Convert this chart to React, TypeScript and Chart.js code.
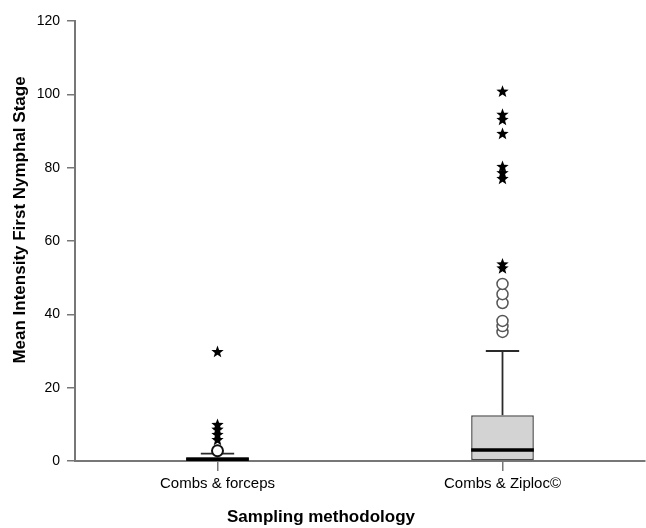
import React, { useEffect, useRef } from "react";
import { Chart, registerables } from "chart.js";

Chart.register(...registerables);

const categories = ["Combs & forceps", "Combs & Ziploc©"];
const q1 = [0, 0];
const q3 = [1, 12.5];
const medians = [0.5, 3];
const whiskerLow = [0, 0];
const whiskerHigh = [2, 30];
const circleOutliers = [[2.8], [35.2, 36.8, 38.2, 43.1, 45.5, 48.3]];
const starOutliers = [
  [5.7, 7.1, 8.5, 9.8, 29.7],
  [52.5, 53.6, 76.9, 78.5, 80.2, 89.2, 93.0, 94.4, 100.7],
];
const yTicks = [0, 20, 40, 60, 80, 100, 120];

const FONT = "'Liberation Sans', Arial, Helvetica, sans-serif";

function drawStar(ctx: CanvasRenderingContext2D, x: number, y: number, r: number) {
  const inner = r * 0.42;
  ctx.beginPath();
  for (let k = 0; k < 10; k++) {
    const rad = k % 2 === 0 ? r : inner;
    const a = -Math.PI / 2 + (k * Math.PI) / 5;
    const px = x + rad * Math.cos(a);
    const py = y + rad * Math.sin(a);
    if (k === 0) ctx.moveTo(px, py);
    else ctx.lineTo(px, py);
  }
  ctx.closePath();
  ctx.fill();
}

const boxPlugin = {
  id: "boxExtras",
  afterDatasetsDraw(chart: any) {
    const ctx = chart.ctx as CanvasRenderingContext2D;
    const xs = chart.scales.x;
    const ys = chart.scales.y;
    const meta = chart.getDatasetMeta(0);
    ctx.save();
    categories.forEach((_, i) => {
      const cx = xs.getPixelForValue(i);
      const bar = meta.data[i];
      const bw = bar ? bar.width : 60;
      const capHalf = bw / 4 + 1;
      ctx.strokeStyle = "#2a2a2a";
      ctx.lineWidth = 1.8;
      ctx.beginPath();
      ctx.moveTo(cx, ys.getPixelForValue(q3[i]));
      ctx.lineTo(cx, ys.getPixelForValue(whiskerHigh[i]));
      ctx.stroke();
      ctx.beginPath();
      ctx.moveTo(cx - capHalf, ys.getPixelForValue(whiskerHigh[i]));
      ctx.lineTo(cx + capHalf, ys.getPixelForValue(whiskerHigh[i]));
      ctx.stroke();
      if (whiskerLow[i] < q1[i]) {
        ctx.beginPath();
        ctx.moveTo(cx, ys.getPixelForValue(q1[i]));
        ctx.lineTo(cx, ys.getPixelForValue(whiskerLow[i]));
        ctx.stroke();
      }
      ctx.strokeStyle = "#000";
      ctx.lineWidth = 3.5;
      ctx.beginPath();
      ctx.moveTo(cx - bw / 2, ys.getPixelForValue(medians[i]));
      ctx.lineTo(cx + bw / 2, ys.getPixelForValue(medians[i]));
      ctx.stroke();
      ctx.strokeStyle = i === 0 ? "#111" : "#555";
      ctx.lineWidth = i === 0 ? 2 : 1.5;
      ctx.fillStyle = "#fff";
      circleOutliers[i].forEach((v) => {
        ctx.beginPath();
        ctx.arc(cx, ys.getPixelForValue(v), 5.5, 0, Math.PI * 2);
        ctx.fill();
        ctx.stroke();
      });
      ctx.fillStyle = "#000";
      starOutliers[i].forEach((v) => {
        drawStar(ctx, cx, ys.getPixelForValue(v), 6.5);
      });
    });
    ctx.fillStyle = "#000";
    ctx.font = `bold 17px ${FONT}`;
    ctx.textAlign = "center";
    ctx.textBaseline = "middle";
    ctx.fillText("Sampling methodology", chart.width / 2 - 2, 517);
    ctx.translate(20, 220);
    ctx.rotate(-Math.PI / 2);
    ctx.fillText("Mean Intensity First Nymphal Stage", 0, 0);
    ctx.restore();
  },
};

export default function App() {
  const ref = useRef<HTMLCanvasElement | null>(null);
  useEffect(() => {
    if (!ref.current) return;
    const chart = new Chart(ref.current, {
      type: "bar",
      data: {
        labels: categories,
        datasets: [
          {
            data: categories.map((_, i) => [q1[i], q3[i]]) as any,
            backgroundColor: "#d3d3d3",
            borderColor: "#4a4a4a",
            borderWidth: 1.5,
            borderSkipped: false,
            barPercentage: 0.22,
            categoryPercentage: 1,
          },
        ],
      },
      options: {
        animation: false,
        responsive: false,
        maintainAspectRatio: false,
        layout: { padding: { left: 0, right: 1, top: 21, bottom: 0 } },
        plugins: { legend: { display: false }, tooltip: { enabled: false }, title: { display: false } },
        scales: {
          x: {
            offset: true,
            grid: {
              display: true,
              offset: false,
              drawOnChartArea: false,
              drawTicks: true,
              tickLength: 10,
              color: "#777",
              lineWidth: 1.5,
            },
            border: { display: true, color: "#777", width: 2 },
            ticks: { color: "#000", font: { family: FONT, size: 15 }, padding: 4 },
            afterFit: (s: any) => {
              s.height = 67;
            },
          },
          y: {
            min: 0,
            max: 120,
            afterBuildTicks: (s: any) => {
              s.ticks = yTicks.map((v) => ({ value: v }));
            },
            grid: {
              display: true,
              drawOnChartArea: false,
              drawTicks: true,
              tickLength: 8,
              color: "#777",
              lineWidth: 1.5,
            },
            border: { display: true, color: "#777", width: 2 },
            ticks: { color: "#000", font: { family: FONT, size: 14 }, padding: 7 },
            afterFit: (s: any) => {
              s.width = 75;
            },
          },
        },
      },
      plugins: [boxPlugin],
    });
    return () => chart.destroy();
  }, []);
  return (
    <div style={{ position: "fixed", left: 0, top: 0, width: 646, height: 528, background: "#fff" }}>
      <canvas ref={ref} width={646} height={528} style={{ display: "block" }} />
    </div>
  );
}
